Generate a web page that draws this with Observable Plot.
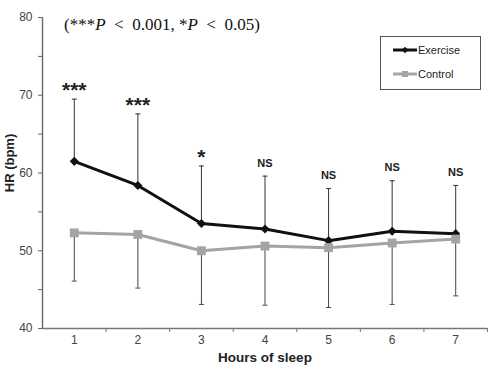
<!DOCTYPE html>
<html>
<head>
<meta charset="utf-8">
<script src="https://cdn.jsdelivr.net/npm/d3@7"></script>
<script src="https://cdn.jsdelivr.net/npm/@observablehq/plot@0.6"></script>
<style>
  html, body { margin: 0; padding: 0; background: #fff; }
  #chart svg { overflow: visible; display: block; }
</style>
</head>
<body>
<div id="chart"></div>
<script>
const hours = [1, 2, 3, 4, 5, 6, 7];
const exercise = [61.5, 58.4, 53.5, 52.8, 51.3, 52.5, 52.2];
const exerciseUpper = [69.5, 67.6, 60.9, 59.6, 58.0, 59.0, 58.4];
const control = [52.3, 52.1, 50.0, 50.6, 50.4, 51.0, 51.5];
const controlLower = [46.1, 45.2, 43.1, 43.0, 42.7, 43.1, 44.2];
const significance = ["***", "***", "*", "NS", "NS", "NS", "NS"];
const yTicks = [40, 45, 50, 55, 60, 65, 70, 75, 80];
const xTickLabels = ["1", "2", "3", "4", "5", "6", "7"];
const xTickMarks = [1.5, 2.5, 3.5, 4.5, 5.5, 6.5, 7.5];
const seriesNames = ["Exercise", "Control"];
const yLabel = "HR (bpm)";
const xLabel = "Hours of sleep";

const exData = hours.map((h, i) => ({x: h, y: exercise[i], top: exerciseUpper[i], sig: significance[i]}));
const ctData = hours.map((h, i) => ({x: h, y: control[i], bottom: controlLower[i]}));

const sans = "'Liberation Sans', Arial, sans-serif";
const cap = {draw(ctx) { ctx.moveTo(-2.5, 0); ctx.lineTo(2.5, 0); }};

const chart = Plot.plot({
  width: 490,
  height: 376,
  marginLeft: 42,
  marginRight: 3,
  marginTop: 17,
  marginBottom: 48,
  style: {fontFamily: sans, background: "#fff"},
  x: {domain: [0.5, 7.5], axis: null},
  y: {domain: [40, 80], axis: null},
  marks: [
    Plot.axisY({ticks: yTicks, tickSize: 4, tickPadding: 6, label: null, tickFormat: d => d % 10 === 0 ? String(d) : "", fontSize: 12, color: "#444", stroke: "#666"}),
    Plot.axisX({ticks: xTickMarks, tickSize: 4, label: null, tickFormat: () => "", stroke: "#777"}),
    Plot.axisX({ticks: hours, tickSize: 0, tickPadding: 7, label: null, tickFormat: (d, i) => xTickLabels[i], fontSize: 12, color: "#444"}),
    Plot.ruleY([40], {stroke: "#777", strokeWidth: 1.4}),
    Plot.ruleX([0.5], {stroke: "#666", strokeWidth: 1.4}),
    // error bars
    Plot.ruleX(exData, {x: "x", y1: "y", y2: "top", stroke: "#333", strokeWidth: 1}),
    Plot.dot(exData, {x: "x", y: "top", symbol: cap, stroke: "#333", strokeWidth: 1, fill: "none", r: 3}),
    Plot.ruleX(ctData, {x: "x", y1: "y", y2: "bottom", stroke: "#444", strokeWidth: 1}),
    Plot.dot(ctData, {x: "x", y: "bottom", symbol: cap, stroke: "#444", strokeWidth: 1, fill: "none", r: 3}),
    // series
    Plot.line(exData, {x: "x", y: "y", stroke: "#111", strokeWidth: 3}),
    Plot.dot(exData, {x: "x", y: "y", symbol: "diamond2", r: 4.1, fill: "#111", stroke: "none"}),
    Plot.line(ctData, {x: "x", y: "y", stroke: "#a4a4a4", strokeWidth: 3}),
    Plot.dot(ctData, {x: "x", y: "y", symbol: "square", r: 5, fill: "#a4a4a4", stroke: "none"}),
    // significance
    Plot.text(exData.filter(d => d.sig.includes("*")), {x: "x", y: "top", text: "sig", dy: -9, fontSize: 21, fontWeight: "bold", fill: "#222"}),
    Plot.text(exData.filter(d => !d.sig.includes("*")), {x: "x", y: "top", text: "sig", dy: -13, fontSize: 11, fontWeight: "bold", fill: "#222"}),
    // x axis label
    Plot.text([xLabel], {frameAnchor: "bottom", dy: 33, fontSize: 13.5, fontWeight: "bold", fill: "#222"})
  ]
});

document.getElementById("chart").appendChild(chart);

const svg = d3.select(chart);

// y axis label
svg.append("text")
  .attr("transform", "translate(13.5,163) rotate(-90)")
  .attr("text-anchor", "middle")
  .attr("font-family", sans).attr("font-size", 13).attr("font-weight", "bold")
  .attr("fill", "#222").text(yLabel);

// Title annotation with italic P
const t = svg.append("text")
  .attr("x", 64).attr("y", 30)
  .attr("text-anchor", "start")
  .attr("font-family", "'Liberation Serif', 'Times New Roman', serif")
  .attr("font-size", 17)
  .attr("fill", "#111");
t.append("tspan").text("(***");
t.append("tspan").attr("font-style", "italic").text("P");
t.append("tspan").text("\u2002<\u20020.001, *");
t.append("tspan").attr("font-style", "italic").text("P");
t.append("tspan").text("\u2002<\u20020.05)");

// Legend
const lg = svg.append("g");
lg.append("rect").attr("x", 380.5).attr("y", 36.5).attr("width", 100).attr("height", 53)
  .attr("fill", "#fff").attr("stroke", "#555").attr("stroke-width", 1);
const legendItems = [
  {name: seriesNames[0], color: "#111", sym: d3.symbolDiamond2, size: 26, y: 50},
  {name: seriesNames[1], color: "#a4a4a4", sym: d3.symbolSquare, size: 36, y: 74}
];
legendItems.forEach(it => {
  lg.append("line").attr("x1", 393).attr("x2", 417).attr("y1", it.y).attr("y2", it.y)
    .attr("stroke", it.color).attr("stroke-width", 3);
  lg.append("path").attr("d", d3.symbol(it.sym, it.size)()).attr("transform", `translate(405,${it.y})`)
    .attr("fill", it.color);
  lg.append("text").attr("x", 418).attr("y", it.y).attr("dy", "0.35em")
    .attr("text-anchor", "start")
    .attr("font-family", sans).attr("font-size", 11).attr("fill", "#222").text(it.name);
});
</script>
</body>
</html>
